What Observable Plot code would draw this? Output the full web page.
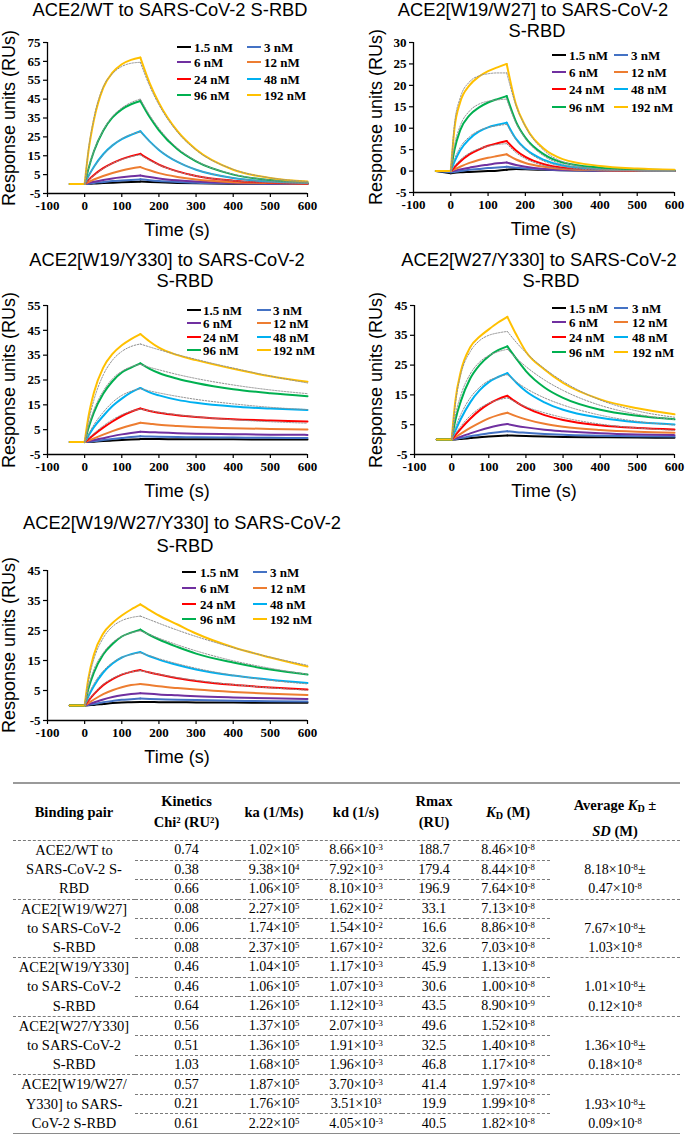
<!DOCTYPE html>
<html><head><meta charset="utf-8">
<script src="https://cdn.jsdelivr.net/npm/d3@7"></script>
<script src="https://cdn.jsdelivr.net/npm/@observablehq/plot@0.6"></script>
<style>
body{margin:0;background:#fff;}
#root{position:relative;width:685px;height:1134px;overflow:hidden;font-family:"Liberation Sans",Arial,sans-serif;color:#000;}
.abs{position:absolute;white-space:nowrap;line-height:1;}
.title{font-size:18.3px;transform:translateX(-50%);}
.axlab{font-size:18px;}
.leg{font-family:"Liberation Serif","Times New Roman",serif;font-weight:bold;font-size:13px;}
.sw{position:absolute;height:2.6px;width:14px;}
table{border-collapse:collapse;table-layout:fixed;font-family:"Liberation Serif","Times New Roman",serif;font-size:14px;}
th{font-weight:bold;font-size:14.5px;height:56px;padding:0;text-align:center;vertical-align:middle;line-height:21px;border-top:2px solid #9a9a9a;border-bottom:1px dashed #7a7a7a;}
td{padding:0;height:18.2px;line-height:18.2px;text-align:center;vertical-align:middle;white-space:nowrap;}
td.inner{border-bottom:1px dashed #7a7a7a;}
tr.grpEnd td, td.sepDash{border-bottom:1px dashed #7a7a7a;}
tr.last td, td.sepLast{border-bottom:3px solid #8a8a8a;}
td.pair{line-height:19.2px;font-size:14.5px;}
td.avg{vertical-align:bottom;line-height:19.2px;}
sup{font-size:0.62em;line-height:0;vertical-align:0.5em;}
sub{font-size:0.7em;line-height:0;vertical-align:-0.15em;}
</style></head>
<body><div id="root"></div>
<script>
// ---------------- data ----------------
const time = [-40, 0, 10, 25, 50, 75, 100, 125, 150, 175, 200, 250, 300, 400, 500, 600];
const concentrations = ["1.5 nM", "3 nM", "6 nM", "12 nM", "24 nM", "48 nM", "96 nM", "192 nM"];
const seriesColors = ["#000000", "#4472C4", "#7030A0", "#ED7D31", "#FF0000", "#00B0F0", "#00B050", "#FFC000"];
const fitConcentrations = ["24 nM", "48 nM", "96 nM", "192 nM"];
const xTicks = [-100, 0, 100, 200, 300, 400, 500, 600];
const yTicksWT = [-5, 5, 15, 25, 35, 45, 55, 65, 75];
const yTicksW19W27 = [-5, 0, 5, 10, 15, 20, 25, 30];
const yTicksW19Y330 = [-5, 5, 15, 25, 35, 45, 55];
const yTicks45 = [-5, 5, 15, 25, 35, 45];

// ACE2/WT
const wtResp = [
  [0, 0, 0.1, 0.3, 0.5, 0.7, 0.9, 1.1, 1.3, 1.1, 0.9, 0.6, 0.4, 0.2, 0.1, 0],
  [0, 0, 0.2, 0.6, 1.1, 1.6, 1.9, 2.2, 2.5, 2.0, 1.6, 1.1, 0.7, 0.4, 0.2, 0.1],
  [0, 0, 0.5, 1.2, 2.2, 3.0, 3.6, 4.1, 4.5, 3.7, 3.0, 2.0, 1.3, 0.6, 0.3, 0.2],
  [0, 0, 1.0, 2.4, 4.3, 5.9, 7.2, 8.2, 9.0, 7.3, 5.8, 3.8, 2.4, 1.0, 0.5, 0.2],
  [0, 0, 2.1, 4.8, 8.4, 11.1, 13.2, 14.8, 16.0, 12.9, 10.3, 6.7, 4.3, 1.8, 0.8, 0.3],
  [0, 0, 4.1, 9.2, 15.8, 20.5, 23.8, 26.1, 28.0, 22.6, 18.1, 11.7, 7.6, 3.2, 1.3, 0.6],
  [0, 0, 7.9, 17.4, 28.3, 35.3, 39.6, 42.3, 44.0, 35.5, 28.5, 18.4, 12.0, 5.0, 2.1, 0.9],
  [0, 0, 17, 34, 51, 59, 63.5, 65.8, 67, 53.5, 43, 28, 18.3, 7.6, 3.2, 1.3]
];
const wtFit = [
  [null, 0, 2.0, 4.6, 8.2, 11.0, 13.0, 14.5, 15.5, 12.6, 10.2, 6.6, 4.3, 1.8, 0.8, 0.3],
  [null, 0, 4.0, 9.0, 15.5, 20.5, 24.0, 26.3, 27.7, 22.5, 18.2, 11.8, 7.7, 3.3, 1.4, 0.6],
  [null, 0, 8.0, 17.5, 28.5, 35.8, 40.3, 43.2, 45.0, 36.5, 29.5, 19.0, 12.3, 5.2, 2.2, 0.9],
  [null, 0, 18, 35, 51.5, 58.5, 62.3, 64, 64.5, 52, 42, 27.5, 18, 7.8, 3.3, 1.4]
];

// ACE2[W19/W27]
const w19w27Resp = [
  [0, -0.5, -0.4, -0.3, -0.2, -0.1, 0, 0.1, 0.3, 0.5, 0.4, 0.3, 0.2, 0.1, 0, 0],
  [0, -0.3, -0.2, 0, 0.3, 0.5, 0.7, 0.85, 1.0, 0.8, 0.6, 0.4, 0.2, 0.1, 0, 0],
  [0, 0, 0.1, 0.4, 0.8, 1.2, 1.5, 1.8, 2.0, 1.4, 1.0, 0.5, 0.3, 0.1, 0, 0],
  [0, 0, 0.4, 1.0, 1.9, 2.6, 3.1, 3.5, 3.9, 2.7, 1.9, 1.0, 0.5, 0.2, 0.1, 0],
  [0, 0, 0.9, 2.2, 3.9, 5.0, 5.9, 6.5, 7.0, 4.8, 3.3, 1.6, 0.8, 0.3, 0.1, 0],
  [0, 0, 2.2, 4.8, 7.5, 9.2, 10.2, 10.8, 11.3, 7.5, 5.2, 2.6, 1.3, 0.5, 0.2, 0.1],
  [0, 0, 5.0, 9.5, 13.0, 14.8, 16.0, 16.8, 17.5, 11.5, 7.8, 3.9, 2.0, 0.8, 0.4, 0.2],
  [0, 0, 10, 16, 20, 22, 23.3, 24.2, 25, 15.5, 10.5, 5.2, 2.8, 1.2, 0.6, 0.3]
];
const w19w27Fit = [
  [null, 0, 1.2, 2.6, 4.2, 5.2, 5.8, 6.2, 6.4, 4.3, 2.9, 1.3, 0.6, 0.1, 0, 0],
  [null, 0, 2.8, 5.5, 8.0, 9.4, 10.2, 10.6, 10.9, 7.3, 5.0, 2.3, 1.1, 0.2, 0.1, 0],
  [null, 0, 6.0, 10.5, 14.0, 15.6, 16.3, 16.6, 16.8, 11.2, 7.6, 3.5, 1.6, 0.4, 0.1, 0],
  [null, 0, 11, 17, 20.8, 22.2, 22.7, 22.9, 22.9, 15.3, 10.4, 4.8, 2.2, 0.5, 0.1, 0]
];

// ACE2[W19/Y330]
const w19y330Resp = [
  [0, 0, 0.05, 0.15, 0.4, 0.6, 0.8, 1.0, 1.2, 1.2, 1.2, 1.1, 1.1, 1.1, 1.0, 1.0],
  [0, 0, 0.1, 0.4, 0.8, 1.2, 1.6, 2.0, 2.3, 2.2, 2.1, 2.0, 1.9, 1.8, 1.7, 1.6],
  [0, 0, 0.3, 0.8, 1.6, 2.4, 3.1, 3.7, 4.2, 4.0, 3.9, 3.6, 3.4, 3.2, 3.0, 2.9],
  [0, 0, 0.6, 1.5, 3.0, 4.4, 5.7, 6.8, 7.8, 7.4, 7.0, 6.5, 6.1, 5.6, 5.3, 5.1],
  [0, 0, 1.2, 3.0, 5.8, 8.3, 10.5, 12.2, 13.5, 12.5, 11.8, 10.8, 10.1, 9.2, 8.7, 8.3],
  [0, 0, 2.5, 6.0, 10.5, 14.5, 17.5, 20.0, 21.8, 20.0, 18.8, 17.0, 15.8, 14.3, 13.5, 12.9],
  [0, 0, 5.5, 12, 19.5, 24.5, 28, 30, 31.7, 29.5, 27.8, 25.5, 23.8, 21.3, 19.7, 18.5],
  [0, 0, 10, 20, 30, 35.5, 39, 41.5, 43.5, 40.5, 38, 35, 33, 29.5, 26.5, 24.3]
];
const w19y330Fit = [
  [null, 0, 1.5, 3.5, 6.5, 9.0, 11.0, 12.4, 13.3, 12.6, 12.0, 11.0, 10.2, 9.0, 8.2, 7.6],
  [null, 0, 3, 7, 12, 16, 18.8, 20.5, 21.5, 20.6, 19.8, 18.4, 17.2, 15.4, 14.0, 13.1],
  [null, 0, 6, 13, 20.5, 25.5, 28.5, 30.3, 31.3, 30.1, 29.1, 27.2, 25.6, 23, 21, 19.5],
  [null, 0, 8, 17, 27, 33, 36.5, 38.5, 39.5, 38.3, 37.2, 35.2, 33.3, 29.8, 26.6, 23.8]
];

// ACE2[W27/Y330]
const w27y330Resp = [
  [0, 0, 0.05, 0.2, 0.5, 0.8, 1.0, 1.2, 1.4, 1.3, 1.2, 1.0, 0.9, 0.8, 0.7, 0.6],
  [0, 0, 0.2, 0.5, 1.1, 1.6, 2.1, 2.5, 2.8, 2.5, 2.3, 1.9, 1.6, 1.3, 1.1, 1.0],
  [0, 0, 0.4, 1.0, 2.1, 3.1, 4.0, 4.7, 5.2, 4.6, 4.1, 3.3, 2.8, 2.1, 1.7, 1.5],
  [0, 0, 0.8, 2.0, 3.9, 5.6, 7.1, 8.2, 9.0, 7.8, 6.8, 5.3, 4.3, 3.2, 2.6, 2.3],
  [0, 0, 1.5, 3.7, 7.0, 9.8, 12.0, 13.6, 14.7, 12.5, 10.7, 8.2, 6.6, 4.8, 3.9, 3.4],
  [0, 0, 3, 7, 12.5, 16.5, 19.3, 21, 22.3, 19, 16.2, 12.5, 10, 7.3, 5.8, 5.1],
  [0, 0, 6.5, 13, 20.5, 25, 28, 30, 31.3, 27, 23, 17.5, 14, 10, 8, 6.8],
  [0, 0, 13, 23, 31, 34.5, 37, 39.3, 41.2, 35, 29.5, 23.5, 19, 13.5, 10.5, 8.5]
];
const w27y330Fit = [
  [null, 0, 2, 4.5, 8, 10.5, 12.2, 13.3, 14, 12.4, 11, 9, 7.4, 5.2, 3.9, 3.1],
  [null, 0, 4, 8.5, 14, 17.5, 19.8, 21, 21.8, 19.3, 17.2, 14, 11.6, 8.2, 6.1, 4.9],
  [null, 0, 8, 15, 22, 26, 28.2, 29.5, 30.3, 27.2, 24.5, 20, 16.5, 11.5, 8.5, 6.7],
  [null, 0, 12, 22, 29.5, 33.2, 35, 35.8, 36.3, 32.5, 29.2, 23.8, 19.5, 13.3, 9.6, 7.5]
];

// ACE2[W19/W27/Y330]
const tripleResp = [
  [0, 0, 0.1, 0.2, 0.5, 0.8, 1.0, 1.1, 1.2, 1.2, 1.1, 1.1, 1.0, 1.0, 0.9, 0.9],
  [0, 0, 0.2, 0.5, 1.1, 1.5, 1.9, 2.1, 2.3, 2.2, 2.1, 1.9, 1.8, 1.6, 1.4, 1.3],
  [0, 0, 0.4, 1.0, 2.0, 2.8, 3.4, 3.8, 4.1, 3.9, 3.7, 3.4, 3.1, 2.7, 2.4, 2.2],
  [0, 0, 0.8, 2.0, 3.8, 5.1, 6.1, 6.8, 7.2, 6.8, 6.4, 5.8, 5.3, 4.5, 3.9, 3.5],
  [0, 0, 1.6, 3.8, 6.8, 8.8, 10.3, 11.2, 11.8, 11.0, 10.3, 9.1, 8.2, 6.9, 6.0, 5.3],
  [0, 0, 3, 6.5, 11, 14, 16, 17.1, 17.8, 16.4, 15.3, 13.5, 12, 10, 8.6, 7.5],
  [0, 0, 5.5, 11, 17, 20.5, 23, 24.3, 25.3, 23.5, 22, 19.5, 17.3, 14.3, 12, 10.3],
  [0, 0, 9, 17, 24, 27.5, 30, 32, 33.7, 31.8, 30, 27, 24, 19.4, 16, 13]
];
const tripleFit = [
  [null, 0, 1.8, 4, 7, 9, 10.4, 11.2, 11.6, 11, 10.4, 9.3, 8.4, 7, 5.9, 5.1],
  [null, 0, 3.5, 7.2, 11.5, 14.3, 16, 17, 17.6, 16.6, 15.6, 13.9, 12.4, 10.1, 8.4, 7.2],
  [null, 0, 6, 12, 17.5, 21, 23, 24.2, 24.9, 23.6, 22.4, 20.2, 18.2, 14.9, 12.4, 10.4],
  [null, 0, 8, 15.5, 22.5, 26.3, 28.3, 29.3, 29.8, 28.6, 27.4, 25.1, 23, 19.3, 16.1, 13.4]
];

const panelTitles = [
  ["ACE2/WT to SARS-CoV-2 S-RBD"],
  ["ACE2[W19/W27] to SARS-CoV-2", "S-RBD"],
  ["ACE2[W19/Y330] to SARS-CoV-2", "S-RBD"],
  ["ACE2[W27/Y330] to SARS-CoV-2", "S-RBD"],
  ["ACE2[W19/W27/Y330] to SARS-CoV-2", "S-RBD"]
];
const yLabel = "Response units (RUs)";
const xLabel = "Time (s)";

// table data
const pairLines = [
  ["ACE2/WT to", "SARS-CoV-2 S-", "RBD"],
  ["ACE2[W19/W27]", "to SARS-CoV-2", "S-RBD"],
  ["ACE2[W19/Y330]", "to SARS-CoV-2", "S-RBD"],
  ["ACE2[W27/Y330]", "to SARS-CoV-2", "S-RBD"],
  ["ACE2[W19/W27/", "Y330] to SARS-", "CoV-2 S-RBD"]
];
const chi2 = ["0.74","0.38","0.66","0.08","0.06","0.08","0.46","0.46","0.64","0.56","0.51","1.03","0.57","0.21","0.61"];
const kaVals = ["1.02×10^5","9.38×10^4","1.06×10^5","2.27×10^5","1.74×10^5","2.37×10^5","1.04×10^5","1.06×10^5","1.26×10^5","1.37×10^5","1.36×10^5","1.68×10^5","1.87×10^5","1.76×10^5","2.22×10^5"];
const kdVals = ["8.66×10^-3","7.92×10^-3","8.10×10^-3","1.62×10^-2","1.54×10^-2","1.67×10^-2","1.17×10^-3","1.07×10^-3","1.12×10^-3","2.07×10^-3","1.91×10^-3","1.96×10^-3","3.70×10^-3","3.51×10^3","4.05×10^-3"];
const rmaxVals = ["188.7","179.4","196.9","33.1","16.6","32.6","45.9","30.6","43.5","49.6","32.5","46.8","41.4","19.9","40.5"];
const kdMVals = ["8.46×10^-8","8.44×10^-8","7.64×10^-8","7.13×10^-8","8.86×10^-8","7.03×10^-8","1.13×10^-8","1.00×10^-8","8.90×10^-9","1.52×10^-8","1.40×10^-8","1.17×10^-8","1.97×10^-8","1.99×10^-8","1.82×10^-8"];
const avgKD = ["8.18×10^-8±","7.67×10^-8±","1.01×10^-8±","1.36×10^-8±","1.93×10^-8±"];
const sdKD = ["0.47×10^-8","1.03×10^-8","0.12×10^-8","0.18×10^-8","0.09×10^-8"];
const headers = ["Binding pair", "Kinetics<br>Chi² (RU²)", "ka (1/Ms)", "kd (1/s)", "Rmax<br>(RU)", "<i>K</i><sub>D</sub> (M)", "Average <i>K</i><sub>D</sub> ±<br><i>SD</i> (M)"];

// ---------------- layout ----------------
const layout = [
  {resp: wtResp, fit: wtFit, yDomain: [-5, 75], yTicks: yTicksWT, L: 0, T: 0, H: 225, x0: 47, x1: 307, y0: 42, y1: 193,
   titleX: [170], titleY: [16.5], legRows: [47, 62, 79, 95], legC: [177, 247], legT: [194, 264], ylabX: 9, timeY: 236},
  {resp: w19w27Resp, fit: w19w27Fit, yDomain: [-5, 30], yTicks: yTicksW19W27, L: 340, T: 0, H: 225, x0: 413, x1: 674, y0: 42, y1: 192,
   titleX: [533, 537], titleY: [16.5, 37.5], legRows: [55, 72, 89, 107], legC: [552, 614], legT: [569, 631], ylabX: 376, timeY: 235},
  {resp: w19y330Resp, fit: w19y330Fit, yDomain: [-5, 55], yTicks: yTicksW19Y330, L: 0, T: 240, H: 230, x0: 47, x1: 307, y0: 305, y1: 454,
   titleX: [167, 185], titleY: [267, 288], legRows: [310, 323, 337, 350], legC: [187, 257], legT: [203, 273], ylabX: 9, timeY: 497},
  {resp: w27y330Resp, fit: w27y330Fit, yDomain: [-5, 45], yTicks: yTicks45, L: 340, T: 240, H: 230, x0: 414, x1: 674, y0: 305, y1: 454,
   titleX: [539, 551], titleY: [267, 288], legRows: [308, 322, 337, 352], legC: [552, 614], legT: [569, 632], ylabX: 376, timeY: 497},
  {resp: tripleResp, fit: tripleFit, yDomain: [-5, 45], yTicks: yTicks45, L: 0, T: 490, H: 250, x0: 47, x1: 307, y0: 570, y1: 720,
   titleX: [182, 185], titleY: [530, 553], legRows: [572, 588, 604, 619], legC: [182, 253], legT: [200, 270], ylabX: 9, timeY: 763}
];

const phases = [[0, 1], [1, 8], [8, 15]];
function rowsOf(series, names) {
  const out = [];
  series.forEach((vals, s) => {
    phases.forEach(([a, b], p) => {
      for (let i = a; i <= b; i++) {
        if (vals[i] != null) out.push({t: time[i], v: vals[i], conc: names[s], key: names[s] + "-" + p});
      }
    });
  });
  return out;
}

const root = d3.select("#root");

layout.forEach((P, idx) => {
  const respRows = rowsOf(P.resp, concentrations);
  const fitRows = rowsOf(P.fit, fitConcentrations);
  const W = 340;
  const svg = Plot.plot({
    width: W, height: P.H,
    marginLeft: P.x0 - P.L, marginRight: P.L + W - P.x1,
    marginTop: P.y0 - P.T, marginBottom: P.T + P.H - P.y1,
    style: {fontFamily: "'Liberation Serif','Times New Roman',serif", fontSize: "13px", fontWeight: "bold", overflow: "visible", background: "transparent", color: "#000"},
    x: {domain: [-100, 600]},
    y: {domain: P.yDomain},
    color: {domain: concentrations, range: seriesColors},
    marks: [
      Plot.line(respRows, {x: "t", y: "v", z: "key", stroke: "conc", strokeWidth: 2, curve: "monotone-x"}),
      Plot.line(fitRows, {x: "t", y: "v", z: "key", stroke: "#8f8f8f", strokeWidth: 1, strokeDasharray: "1.5,1.5", curve: "monotone-x"}),
      Plot.ruleX([-100], {stroke: "#000", strokeWidth: 1.3}),
      Plot.ruleY([-5], {stroke: "#000", strokeWidth: 1.3}),
      Plot.axisX({ticks: xTicks, tickSize: 4, tickPadding: 3, tickFormat: d => String(d), label: null, stroke: "#000", strokeWidth: 1.2}),
      Plot.axisY({ticks: P.yTicks, tickSize: 4, tickPadding: 3, tickFormat: d => String(d), label: null, stroke: "#000", strokeWidth: 1.2})
    ]
  });
  const holder = root.append("div").attr("class", "abs").style("left", P.L + "px").style("top", P.T + "px");
  holder.node().appendChild(svg);
  d3.select(svg).style("max-width", "none");

  // titles
  panelTitles[idx].forEach((t, i) => {
    root.append("div").attr("class", "abs title").text(t)
      .style("left", P.titleX[i] + "px").style("top", Math.max(0, P.titleY[i] - 0.85 * 18.3) + "px");
  });
  // x label
  root.append("div").attr("class", "abs axlab").text(xLabel)
    .style("left", ((P.x0 + P.x1) / 2) + "px").style("top", (P.timeY - 0.85 * 18) + "px")
    .style("transform", "translateX(-50%)");
  // y label
  root.append("div").attr("class", "abs axlab").text(yLabel)
    .style("left", P.ylabX + "px").style("top", ((P.y0 + P.y1) / 2) + "px")
    .style("transform", "translate(-50%,-50%) rotate(-90deg)");
  // legend
  concentrations.forEach((c, i) => {
    const r = Math.floor(i / 2), col = i % 2;
    const y = P.legRows[r];
    root.append("div").attr("class", "sw").style("background", seriesColors[i])
      .style("left", P.legC[col] + "px").style("top", (y - 1.3) + "px");
    root.append("div").attr("class", "abs leg").text(c)
      .style("left", P.legT[col] + "px").style("top", (y - 6.5) + "px");
  });
});

// ---------------- table ----------------
function fmt(s) {
  const m = s.match(/^(.*)\^(-?\d+)(.*)$/);
  if (!m) return s;
  return m[1] + "<sup>" + m[2] + "</sup>" + m[3];
}
const colW = [122, 103, 72, 92, 64, 84, 130];
const table = root.append("table").attr("class", "abs").style("left", "13px").style("top", "782px").style("width", "667px");
const cg = table.append("colgroup");
colW.forEach(w => cg.append("col").style("width", w + "px"));
const hr = table.append("thead").append("tr");
headers.forEach((h, i) => {
  const th = hr.append("th");
  if (i === 6) th.html('<div style="position:relative;top:6px;line-height:26px">' + h + '</div>');
  else th.html(h);
});
const tb = table.append("tbody");
pairLines.forEach((lines, g) => {
  const isLast = g === pairLines.length - 1;
  for (let r = 0; r < 3; r++) {
    const k = g * 3 + r;
    const tr = tb.append("tr");
    if (r === 2) tr.attr("class", isLast ? "last" : "grpEnd");
    if (r === 0) tr.append("td").attr("rowspan", 3).attr("class", "pair " + (isLast ? "sepLast" : "sepDash")).html(lines.join("<br>"));
    [chi2[k], kaVals[k], kdVals[k], rmaxVals[k], kdMVals[k]].forEach(v => {
      tr.append("td").attr("class", r < 2 ? "inner" : null).html(fmt(v));
    });
    if (r === 0) tr.append("td").attr("rowspan", 3).attr("class", "avg " + (isLast ? "sepLast" : "sepDash")).html(fmt(avgKD[g]) + "<br>" + fmt(sdKD[g]));
  }
});
</script>
</body></html>
